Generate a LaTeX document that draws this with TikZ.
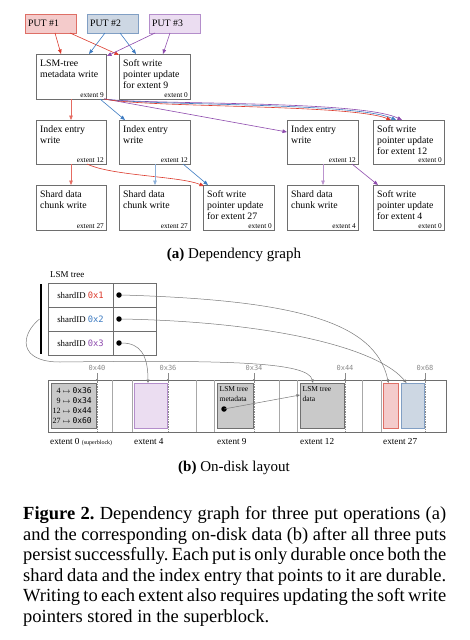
\documentclass[tikz,border=0pt]{standalone}
\usepackage{fontspec}
\setmainfont{Liberation Serif}
\setmonofont{DejaVu Sans Mono}
\usetikzlibrary{arrows.meta,calc}
\frenchspacing
\definecolor{boxc}{HTML}{6E6E6E}
\definecolor{rA}{HTML}{DC3A2C}
\definecolor{bA}{HTML}{3E7CC2}
\definecolor{pA}{HTML}{8E4BAE}
\definecolor{rF}{HTML}{F4CBCB}
\definecolor{rD}{HTML}{DE6F66}
\definecolor{bF}{HTML}{CDD7E3}
\definecolor{bD}{HTML}{819FC4}
\definecolor{pF}{HTML}{EBDDF1}
\definecolor{pD}{HTML}{B48ECB}
\definecolor{gF}{HTML}{C9C9C9}
\definecolor{gD}{HTML}{707070}
\definecolor{hexc}{HTML}{8A8A8A}
\definecolor{sepc}{HTML}{A8A8A8}
\definecolor{linec}{HTML}{7A7A7A}
\tikzset{
  gbx/.style={draw=boxc, line width=0.7pt, fill=white, inner sep=0pt, outer sep=0pt, anchor=north west},
  btxt/.style={anchor=north west, align=left, inner sep=0pt, font=\fontsize{9.8}{11}\selectfont},
  etxt/.style={anchor=south east, inner sep=0pt, font=\fontsize{7.3}{8}\selectfont},
  putbox/.style={line width=0.7pt, inner sep=0pt, outer sep=0pt, anchor=north west, minimum width=51pt, minimum height=19pt},
  puttxt/.style={anchor=west, inner sep=0pt, font=\fontsize{9.8}{11}\selectfont},
  ar/.style={-{Triangle[length=4.5pt,width=3.6pt]}, line width=0.6pt},
  gar/.style={-{Triangle[length=3.5pt,width=2.8pt]}, line width=0.5pt, draw=linec},
  cellbox/.style={draw=boxc, line width=0.6pt, inner sep=0pt, outer sep=0pt, anchor=north west, minimum height=24pt},
  celltxt/.style={font=\fontsize{8.8}{10}\selectfont},
  pdot/.style={circle, fill=black, inner sep=0pt, minimum size=5.5pt},
  ibox/.style={line width=0.7pt, inner sep=0pt, outer sep=0pt, anchor=north west, minimum height=45pt},
  hexlab/.style={anchor=base, inner sep=0pt, text=hexc, font=\fontsize{7}{8}\ttfamily},
  hexdash/.style={draw=hexc, line width=0.5pt, dash pattern=on 1.5pt off 1pt},
  sepline/.style={draw=sepc, line width=0.9pt},
  extlab/.style={anchor=base west, inner sep=0pt, font=\fontsize{9.2}{10}\selectfont},
  smtxt/.style={anchor=north west, align=left, inner sep=0pt, font=\fontsize{7.5}{10}\selectfont},
  captxt/.style={anchor=base west, inner sep=0pt, font=\fontsize{18.5}{20}\selectfont},
  subcap/.style={anchor=base, inner sep=0pt, font=\fontsize{15}{17}\selectfont}
}
\newcommand{\gbox}[7]{%
  \node[gbx, minimum width=#4pt, minimum height=#5pt] (#1) at (#2,#3) {};
  \node[btxt] (#1t) at ($(#1.north west)+(4,5.5)$) {#6};
  \node[etxt] (#1e) at ($(#1.south east)+(-2,-1.5)$) {#7};}
\begin{document}
\begin{tikzpicture}[x=1pt,y=-1pt]
\useasboundingbox (0,0) rectangle (469,640);
\fill[white] (0,0) rectangle (469,640);

% ---------- (a) dependency graph ----------
\node[putbox, draw=rD, fill=rF] (p1) at (25,14) {};
\node[puttxt] (p1t) at ($(p1.west)+(3,0)$) {PUT \#1};
\node[putbox, draw=bD, fill=bF] (p2) at (87,14) {};
\node[puttxt] (p2t) at ($(p2.west)+(3,0)$) {PUT \#2};
\node[putbox, draw=pD, fill=pF] (p3) at (149,14) {};
\node[puttxt] (p3t) at ($(p3.west)+(3,0)$) {PUT \#3};

\gbox{lsm}{36}{54}{70}{45}{LSM-tree\\metadata write}{extent 9}
\gbox{sw9}{119}{54}{71}{45}{Soft write\\pointer update\\for extent 9}{extent 0}
\gbox{ie1}{36}{120}{70}{44}{Index entry\\write}{extent 12}
\gbox{ie2}{119}{120}{71}{44}{Index entry\\write}{extent 12}
\gbox{ie3}{287}{120}{71}{44}{Index entry\\write}{extent 12}
\gbox{sw12}{373}{120}{71}{44}{Soft write\\pointer update\\for extent 12}{extent 0}
\gbox{sd1}{36}{185}{70}{45}{Shard data\\chunk write}{extent 27}
\gbox{sd2}{119}{185}{71}{45}{Shard data\\chunk write}{extent 27}
\gbox{sw27}{203}{185}{71}{45}{Soft write\\pointer update\\for extent 27}{extent 0}
\gbox{sd3}{287}{185}{71}{45}{Shard data\\chunk write}{extent 4}
\gbox{sw4}{373}{185}{71}{45}{Soft write\\pointer update\\for extent 4}{extent 0}

% red (PUT #1)
\draw[ar, rA] ($(p1.south west)+(30,0)$) -- ($(lsm.north west)+(25,0)$);
\draw[ar, rA] ($(p1.south west)+(45,0)$) -- ($(sw9.north west)+(0,1)$);
\draw[ar, rA!75] ($(lsm.south west)+(35,0)$) -- ($(ie1.north west)+(35,0)$);
\draw[ar, rA!75] ($(ie1.south west)+(35,0)$) -- ($(sd1.north west)+(35,0)$);
\draw[ar, rA] ($(ie1.south west)+(51,0)$) .. controls +(25,12) and +(-25,-10) .. ($(sw27.north west)+(1,1)$);
% blue (PUT #2)
\draw[ar, bA] ($(p2.south west)+(18,0)$) -- ($(lsm.north west)+(53,0)$);
\draw[ar, bA] ($(p2.south west)+(33,0)$) -- ($(sw9.north west)+(17,0)$);
\draw[ar, bA] ($(lsm.south west)+(64,0)$) -- ($(ie2.north west)+(6,0)$);
\draw[ar, bA!60] ($(ie2.south west)+(36,0)$) -- ($(sd2.north west)+(36,0)$);
\draw[ar, bA] ($(ie2.south west)+(64,0)$) -- ($(sw27.north west)+(5,0)$);
% purple (PUT #3)
\draw[ar, pA] ($(p3.south west)+(6,0)$) -- ($(lsm.north east)+(1,2)$);
\draw[ar, pA] ($(p3.south west)+(21,0)$) -- ($(sw9.north west)+(44,0)$);
\draw[ar, pA] ($(lsm.south east)+(-1,0)$) -- ($(ie3.north west)+(0,12)$);
\draw[ar, pA!60] ($(ie3.south west)+(36,0)$) -- ($(sd3.north west)+(36,0)$);
\draw[ar, pA] ($(ie3.south west)+(65,0)$) -- ($(sw4.north west)+(5,0)$);
% bundle to soft write pointer update for extent 12
\draw[ar, pA] ($(lsm.south east)+(-2,0)$) .. controls +(46,6) and +(-42,-20) .. ($(sw12.north west)+(29,0)$);
\draw[ar, bA] ($(lsm.south east)+(-2,0)$) .. controls +(46,7) and +(-41,-18) .. ($(sw12.north west)+(23,0)$);
\draw[ar, rA] ($(lsm.south east)+(-2,0)$) .. controls +(46,9) and +(-41,-16) .. ($(sw12.north west)+(18,0)$);

\node[subcap] (suba) at (234,258) {\textbf{(a)} Dependency graph};

% ---------- (b) on-disk layout ----------
\node[anchor=base west, inner sep=0pt, font=\fontsize{9}{10}\selectfont] (lsmlab) at (50,277) {LSM tree};
\node[fill=black, inner sep=0pt, minimum width=2.6pt, minimum height=70pt] (bar) at (41,319) {};
\node[cellbox, minimum width=65pt] (l1) at (48,283) {};
\node[cellbox, minimum width=43pt] (r1) at (113,283) {};
\node[cellbox, minimum width=65pt] (l2) at (48,307) {};
\node[cellbox, minimum width=43pt] (r2) at (113,307) {};
\node[cellbox, minimum width=65pt] (l3) at (48,331) {};
\node[cellbox, minimum width=43pt] (r3) at (113,331) {};
\node[celltxt] (l1t) at (l1.center) {shardID \textcolor{rA}{\texttt{0x1}}};
\node[celltxt] (l2t) at (l2.center) {shardID \textcolor{bA}{\texttt{0x2}}};
\node[celltxt] (l3t) at (l3.center) {shardID \textcolor{pA}{\texttt{0x3}}};
\node[pdot] (d1) at (119,295) {};
\node[pdot] (d2) at (119,319) {};
\node[pdot] (d3) at (119,343) {};

% disk
\node[draw=boxc, line width=0.7pt, inner sep=0pt, outer sep=0pt, anchor=north west, minimum width=398pt, minimum height=52pt] (disk) at (48,380) {};
\foreach \sx in {112,132,196,214,279,297,362,381} {\draw[sepline] (\sx,380) -- (\sx,432);}

\node[ibox, draw=gD, fill=gF, minimum width=45pt] (sb) at (51,383) {};
\node[anchor=north east, align=right, inner sep=0pt, font=\fontsize{8}{10}\selectfont] (sbt) at (92,387)
  {4 {\scriptsize$\mapsto$} \texttt{0x36}\\9 {\scriptsize$\mapsto$} \texttt{0x34}\\12 {\scriptsize$\mapsto$} \texttt{0x44}\\27 {\scriptsize$\mapsto$} \texttt{0x60}};
\node[ibox, draw=pD, fill=pF, minimum width=33pt] (e4) at (134,383) {};
\node[ibox, draw=gD, fill=gF, minimum width=36pt] (e9) at (217,383) {};
\node[smtxt] (e9t) at (219.5,386) {LSM tree\\metadata};
\node[pdot] (d9) at (224,409) {};
\node[ibox, draw=gD, fill=gF, minimum width=44pt] (e12) at (300,383) {};
\node[smtxt] (e12t) at (302.5,386) {LSM tree\\data};
\node[ibox, draw=rD, fill=rF, minimum width=15pt] (e27r) at (383,383) {};
\node[ibox, draw=bD, fill=bF, minimum width=23pt] (e27b) at (401,383) {};

\foreach \hx/\hl/\hn in {97/0x40/ha,168/0x36/hb,254/0x34/hc,345/0x44/hd,425/0x68/he} {
  \node[hexlab] (\hn) at (\hx,370.5) {\hl};
  \draw[-{Triangle[length=2pt,width=2pt]}, draw=hexc, line width=0.5pt] (\hx,373) -- (\hx,381);
  \draw[hexdash] (\hx,381) -- (\hx,432);
}

\node[extlab] (x0) at (50,444) {extent 0 {\fontsize{6}{7}\selectfont (superblock)}};
\node[extlab] (x4) at (134,444) {extent 4};
\node[extlab] (x9) at (217,444) {extent 9};
\node[extlab] (x12) at (300,444) {extent 12};
\node[extlab] (x27) at (383,444) {extent 27};

% pointers
\draw[gar] (d1.east) .. controls (290,300) and (375,320) .. ($(e27r.north)+(-2,0)$);
\draw[gar] (d2.east) .. controls (280,322) and (380,350) .. ($(e27b.north)+(-6,0)$);
\draw[gar] (d3.east) .. controls (140,343) and (148,355) .. ($(e4.north)+(-2.5,0)$);
\draw[gar] (bar.west) .. controls (20,335) and (18,362) .. (60,362) .. controls (230,360) and (308,362) .. ($(e12.north west)+(13,0)$);
\draw[gar] (d9.center) -- ($(e12.north west)+(0,12)$);

\node[subcap] (subb) at (234,471) {\textbf{(b)} On-disk layout};

% ---------- caption ----------
\node[captxt] (c1) at (23,519) {\makebox[423pt][s]{\textbf{Figure 2.} Dependency graph for three put operations (a)}};
\node[captxt] (c2) at (23,540) {\makebox[423pt][s]{and the corresponding on-disk data (b) after all three puts}};
\node[captxt] (c3) at (23,560.5) {\makebox[423pt][s]{persist successfully. Each put is only durable once both the}};
\node[captxt] (c4) at (23,581) {\makebox[423pt][s]{shard data and the index entry that points to it are durable.}};
\node[captxt] (c5) at (23,601.5) {\makebox[423pt][s]{Writing to each extent also requires updating the soft write}};
\node[captxt] (c6) at (23,622) {pointers stored in the superblock.};
\end{tikzpicture}
\end{document}
